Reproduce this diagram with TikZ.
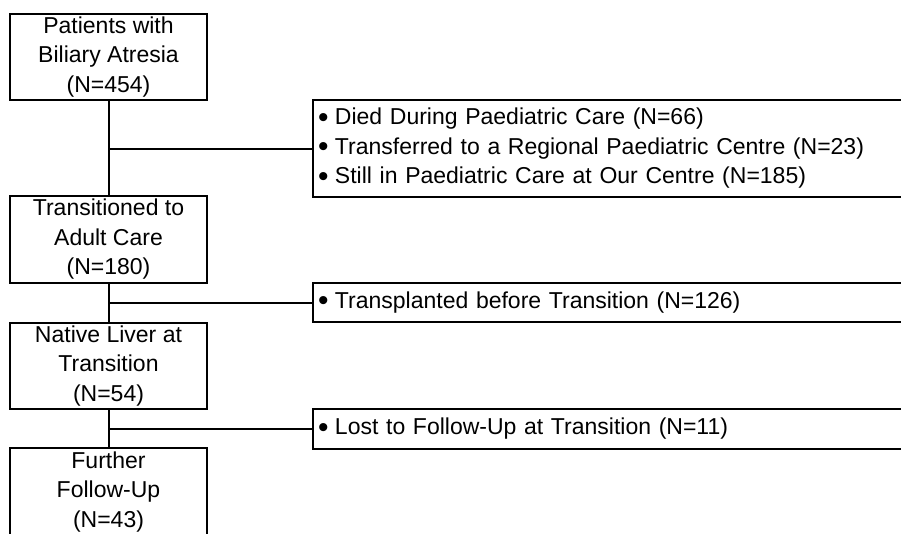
\documentclass[tikz,border=0pt]{standalone}
\usepackage{fontspec}
\setmainfont{Liberation Sans}
\newcommand{\bul}{\smash{\raisebox{-0.1em}{\scalebox{1.3}{\textbullet}}}\kern-0.05em}
\begin{document}
\begin{tikzpicture}[x=1pt,y=-1pt,line width=2pt,
  txt/.style={font=\fontsize{23}{29.5}\selectfont},
  lbox/.style={txt,draw,minimum width=197pt,minimum height=86pt,inner sep=0pt,align=center},
  rbox/.style={txt,draw,anchor=west,minimum width=660pt,text width=650pt,inner xsep=5pt,inner ysep=0pt,align=left},
  link/.style={line width=2pt}]
\clip (0,0) rectangle (901,533);
\node[lbox] (b1) at (108.5,57) {Patients with\\Biliary Atresia\\(N=454)};
\node[lbox,minimum height=87pt] (b2) at (108.5,239.5) {Transitioned to\\Adult Care\\(N=180)};
\node[lbox] (b3) at (108.5,366) {Native Liver at\\Transition\\(N=54)};
\node[lbox,minimum height=88pt] (b4) at (108.5,492) {Further\\Follow-Up\\(N=43)};
\node[rbox,minimum height=97pt] (r1) at (312,148.5) {\bul\ Died During Paediatric Care (N=66)\\\bul\ Transferred to a Regional Paediatric Centre (N=23)\\\bul\ Still in Paediatric Care at Our Centre (N=185)};
\node[rbox,minimum height=39pt] (r2) at (312,302.5) {\bul\ Transplanted before Transition (N=126)};
\node[rbox,minimum height=40pt] (r3) at (312,429) {\bul\ Lost to Follow-Up at Transition (N=11)};
\draw[link] (b1.south) -- (b2.north);
\draw[link] (b2.south) -- (b3.north);
\draw[link] (b3.south) -- (b4.north);
\draw[link] (b1.south |- r1.west) -- (r1.west);
\draw[link] (b2.south |- r2.west) -- (r2.west);
\draw[link] (b3.south |- r3.west) -- (r3.west);
\end{tikzpicture}
\end{document}
